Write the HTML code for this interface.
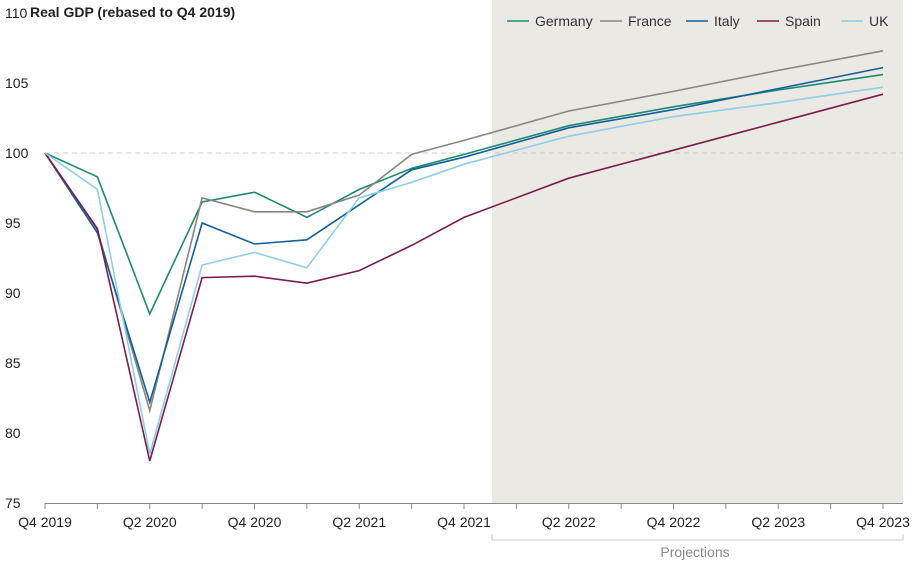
<!DOCTYPE html>
<html><head><meta charset="utf-8"><style>
body{margin:0;background:#fff;font-family:"Liberation Sans",sans-serif}
svg text{font-family:"Liberation Sans",sans-serif}
</style></head><body>
<svg id="c" width="916" height="561">
<rect x="492" y="0" width="411" height="503" fill="#ebe9e4"/>
<g id="grid"></g><g id="series"></g><g id="axes"></g>
<text x="30" y="17" font-size="14" font-weight="bold" fill="#222">Real GDP (rebased to Q4 2019)</text>
<path d="M492,534 V540 H903 V534" fill="none" stroke="#ccc"/>
<text x="695" y="557" font-size="14" fill="#888" text-anchor="middle">Projections</text>
<g id="legend"></g>
</svg>
<script>
const xIdx=[0,1,2,3,4,5,6,7,8,10,12,14,16];
const germany=[100,98.3,88.5,96.5,97.2,95.4,97.4,98.9,99.9,101.95,103.3,104.5,105.6];
const france=[100,94.5,81.6,96.8,95.8,95.8,97,99.9,100.9,103,104.4,105.9,107.3];
const italy=[100,94.3,82.2,95,93.5,93.8,96.3,98.8,99.7,101.8,103.1,104.6,106.1];
const spain=[100,94.6,78,91.1,91.2,90.7,91.6,93.4,95.4,98.2,100.2,102.2,104.2];
const uk=[100,97.4,78.5,92,92.9,91.8,96.8,97.9,99.2,101.2,102.6,103.6,104.7];
const yTicks=[75,80,85,90,95,100,105,110];
const xLabels=["Q4 2019","Q2 2020","Q4 2020","Q2 2021","Q4 2021","Q2 2022","Q4 2022","Q2 2023","Q4 2023"];
const NS="http://www.w3.org/2000/svg";
const X=i=>45+i*52.375, Y=v=>153-(v-100)*14;
function mk(t,a,p){const e=document.createElementNS(NS,t);for(const k in a)e.setAttribute(k,a[k]);p.appendChild(e);return e;}
const grid=document.getElementById('grid'),axes=document.getElementById('axes'),ser=document.getElementById('series'),leg=document.getElementById('legend');
yTicks.forEach(v=>{
 const t=mk('text',{x:5,y:Y(v)+5,'font-size':14,fill:'#222'},axes);t.textContent=v;
 
 
});
const ref=mk('line',{x1:45,x2:903,y1:Y(100),y2:Y(100),stroke:'#ccc','stroke-dasharray':'5,4'},grid);


const ax=mk('line',{x1:45,x2:903,y1:503.5,y2:503.5,stroke:'#888'},axes);


for(let i=0;i<=16;i++){const tk=mk('line',{x1:X(i),x2:X(i),y1:503,y2:509,stroke:'#888'},axes);
 
 }
xLabels.forEach((l,k)=>{const t=mk('text',{x:X(k*2),y:527,'font-size':14,fill:'#222','text-anchor':'middle'},axes);t.textContent=l;
 
 });
const S=[["Germany",germany,"#1a8a72"],["France",france,"#8a8580"],["Italy",italy,"#125f9b"],["Spain",spain,"#7a1d4d"],["UK",uk,"#8dcfe6"]];
const legX=[507,600,686,757,841];
S.forEach(([n,d,c],k)=>{
 const p=mk('polyline',{points:d.map((v,j)=>X(xIdx[j])+','+Y(v)).join(' '),fill:'none',stroke:c,'stroke-width':1.6},ser);
 
 
 const g=mk('g',{},leg);
 
 
 mk('line',{x1:legX[k],x2:legX[k]+22,y1:21,y2:21,stroke:c,'stroke-width':1.6},g);
 const t=mk('text',{x:legX[k]+28,y:26,'font-size':14,fill:'#333'},g);t.textContent=n;
});
</script>
</body></html>
